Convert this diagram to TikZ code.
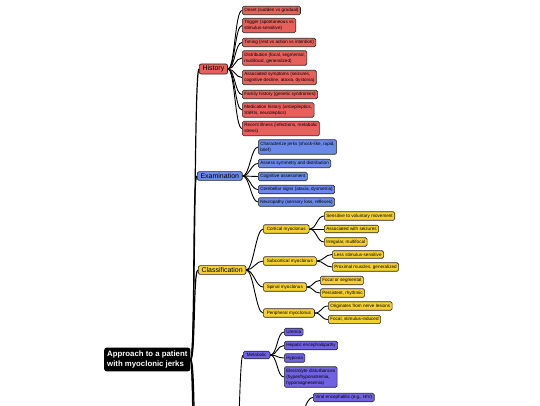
\documentclass[tikz,border=0pt]{standalone}
\usepackage{fontspec}
\setmainfont{Liberation Sans}
\usepackage{tikz}
\usetikzlibrary{positioning}
\definecolor{histred}{HTML}{E8605C}
\definecolor{exblue}{HTML}{6A89E8}
\definecolor{clyellow}{HTML}{F5D032}
\definecolor{etpurple}{HTML}{7062E0}

\begin{document}
\begin{tikzpicture}[
  x=1pt, y=-1pt,
  rootbox/.style={fill=black, text=white, rounded corners=2.5pt, anchor=west,
    font=\fontsize{7.8}{10.5}\selectfont\bfseries, inner xsep=3pt, inner ysep=3pt, align=left},
  topic/.style={draw=black!85, line width=0.7pt, rounded corners=2pt, anchor=west,
    font=\fontsize{7}{8}\selectfont, inner xsep=3.2pt, inner ysep=1.8pt},
  sub/.style={draw=black!85, line width=0.6pt, rounded corners=1.5pt, anchor=west,
    font=\fontsize{4.6}{6}\selectfont, inner xsep=3.5pt, inner ysep=2.1pt},
  leaf/.style={draw=black!85, line width=0.6pt, rounded corners=1.5pt, anchor=west,
    font=\fontsize{4.6}{6}\selectfont, inner xsep=2pt, inner ysep=2.1pt, align=left},
  trunk/.style={line width=1.2pt},
  link/.style={line width=0.9pt}
]
  \useasboundingbox (0,0) rectangle (540,405);
  \clip (0,0) rectangle (540,405);

  \node[rootbox] (root) at (104,359.5) {Approach to a patient\\with myoclonic jerks};

  \node[topic, fill=histred] (hist) at (199,69) {History};
  \node[topic, fill=exblue] (exam) at (197,176) {Examination};
  \node[topic, fill=clyellow] (class) at (198,270) {Classification};
  \coordinate (etiowest) at (198,480);
  \coordinate (etioeast) at (235,480);
  \coordinate (lowB) at (198,700);
  \coordinate (lowC) at (198,880);

  \node[leaf, fill=histred] (onset) at (242,10.5) {Onset (sudden vs gradual)};
  \node[leaf, fill=histred] (trigger) at (242,25.5) {Trigger (spontaneous vs\\stimulus-sensitive)};
  \node[leaf, fill=histred] (timing) at (242,42.5) {Timing (rest vs action vs intention)};
  \node[leaf, fill=histred] (distrib) at (242,58) {Distribution (focal, segmental,\\multifocal, generalized)};
  \node[leaf, fill=histred] (assoc) at (242,77.5) {Associated symptoms (seizures,\\cognitive decline, ataxia, dystonia)};
  \node[leaf, fill=histred] (family) at (242,94.5) {Family history (genetic syndromes)};
  \node[leaf, fill=histred] (medic) at (242,110) {Medication history (antiepileptics,\\SSRIs, neuroleptics)};
  \node[leaf, fill=histred] (recent) at (242,128.5) {Recent illness (infections, metabolic\\stress)};

  \node[leaf, fill=exblue] (jerks) at (258,147) {Characterize jerks (shock-like, rapid,\\brief)};
  \node[leaf, fill=exblue] (symm) at (258,163.5) {Assess symmetry and distribution};
  \node[leaf, fill=exblue] (cogn) at (258,176.5) {Cognitive assessment};
  \node[leaf, fill=exblue] (cereb) at (258,189.5) {Cerebellar signs (ataxia, dysmetria)};
  \node[leaf, fill=exblue] (neuro) at (258,202) {Neuropathy (sensory loss, reflexes)};

  \node[sub, fill=clyellow] (cort) at (263,229) {Cortical myoclonus};
  \node[sub, fill=clyellow] (subcort) at (263,261) {Subcortical myoclonus};
  \node[sub, fill=clyellow] (spinal) at (263,287) {Spinal myoclonus};
  \node[sub, fill=clyellow] (periph) at (263,313) {Peripheral myoclonus};

  \node[leaf, fill=clyellow] (volmove) at (324,216) {Sensitive to voluntary movement};
  \node[leaf, fill=clyellow] (seiz) at (324,229) {Associated with seizures};
  \node[leaf, fill=clyellow] (irreg) at (324,242) {Irregular, multifocal};
  \node[leaf, fill=clyellow] (lessstim) at (332,254.5) {Less stimulus-sensitive};
  \node[leaf, fill=clyellow] (proxim) at (332,267) {Proximal muscles, generalized};
  \node[leaf, fill=clyellow] (focseg) at (320,280.5) {Focal or segmental};
  \node[leaf, fill=clyellow] (rhythm) at (320,293) {Persistent, rhythmic};
  \node[leaf, fill=clyellow] (nerve) at (328,306) {Originates from nerve lesions};
  \node[leaf, fill=clyellow] (stimind) at (328,319.5) {Focal, stimulus-induced};

  \node[sub, fill=etpurple] (meta) at (243,355) {Metabolic};
  \node[leaf, fill=etpurple] (uremia) at (284,332) {Uremia};
  \node[leaf, fill=etpurple] (hepatic) at (284,345.5) {Hepatic encephalopathy};
  \node[leaf, fill=etpurple] (hypoxia) at (284,358) {Hypoxia};
  \node[leaf, fill=etpurple] (electro) at (284,377) {Electrolyte disturbances\\(hyper/hyponatremia,\\hypomagnesemia)};
  \coordinate (infect) at (290,440);
  \node[leaf, fill=etpurple] (viral) at (313,397.5) {Viral encephalitis (e.g., HIV)};

  \draw[trunk] (root.east) .. controls +(5,0) and +(-5,0) .. (hist.west);
  \draw[trunk] (root.east) .. controls +(5,0) and +(-5,0) .. (exam.west);
  \draw[trunk] (root.east) .. controls +(5,0) and +(-5,0) .. (class.west);
  \draw[trunk] (root.east) .. controls +(5,0) and +(-5,0) .. (etiowest);
  \draw[trunk] (root.east) .. controls +(5,0) and +(-5,0) .. (lowB);
  \draw[trunk] (root.east) .. controls +(5,0) and +(-5,0) .. (lowC);

  \draw[link] (hist.east) .. controls +(7,0) and +(-7,0) .. (onset.west);
  \draw[link] (hist.east) .. controls +(7,0) and +(-7,0) .. (trigger.west);
  \draw[link] (hist.east) .. controls +(7,0) and +(-7,0) .. (timing.west);
  \draw[link] (hist.east) .. controls +(7,0) and +(-7,0) .. (distrib.west);
  \draw[link] (hist.east) .. controls +(7,0) and +(-7,0) .. (assoc.west);
  \draw[link] (hist.east) .. controls +(7,0) and +(-7,0) .. (family.west);
  \draw[link] (hist.east) .. controls +(7,0) and +(-7,0) .. (medic.west);
  \draw[link] (hist.east) .. controls +(7,0) and +(-7,0) .. (recent.west);

  \draw[link] (exam.east) .. controls +(7,0) and +(-7,0) .. (jerks.west);
  \draw[link] (exam.east) .. controls +(7,0) and +(-7,0) .. (symm.west);
  \draw[link] (exam.east) .. controls +(7,0) and +(-7,0) .. (cogn.west);
  \draw[link] (exam.east) .. controls +(7,0) and +(-7,0) .. (cereb.west);
  \draw[link] (exam.east) .. controls +(7,0) and +(-7,0) .. (neuro.west);

  \draw[link] (class.east) .. controls +(7,0) and +(-7,0) .. (cort.west);
  \draw[link] (class.east) .. controls +(7,0) and +(-7,0) .. (subcort.west);
  \draw[link] (class.east) .. controls +(7,0) and +(-7,0) .. (spinal.west);
  \draw[link] (class.east) .. controls +(7,0) and +(-7,0) .. (periph.west);

  \draw[link] (cort.east) .. controls +(7,0) and +(-7,0) .. (volmove.west);
  \draw[link] (cort.east) .. controls +(7,0) and +(-7,0) .. (seiz.west);
  \draw[link] (cort.east) .. controls +(7,0) and +(-7,0) .. (irreg.west);
  \draw[link] (subcort.east) .. controls +(7,0) and +(-7,0) .. (lessstim.west);
  \draw[link] (subcort.east) .. controls +(7,0) and +(-7,0) .. (proxim.west);
  \draw[link] (spinal.east) .. controls +(7,0) and +(-7,0) .. (focseg.west);
  \draw[link] (spinal.east) .. controls +(7,0) and +(-7,0) .. (rhythm.west);
  \draw[link] (periph.east) .. controls +(7,0) and +(-7,0) .. (nerve.west);
  \draw[link] (periph.east) .. controls +(7,0) and +(-7,0) .. (stimind.west);

  \draw[link] (etioeast) .. controls +(4,0) and +(-4,0) .. (meta.west);
  \draw[link] (meta.east) .. controls +(7,0) and +(-7,0) .. (uremia.west);
  \draw[link] (meta.east) .. controls +(7,0) and +(-7,0) .. (hepatic.west);
  \draw[link] (meta.east) .. controls +(7,0) and +(-7,0) .. (hypoxia.west);
  \draw[link] (meta.east) .. controls +(7,0) and +(-7,0) .. (electro.west);
  \draw[link] (infect) .. controls +(11,0) and +(-11,0) .. (viral.west);
\end{tikzpicture}
\end{document}
